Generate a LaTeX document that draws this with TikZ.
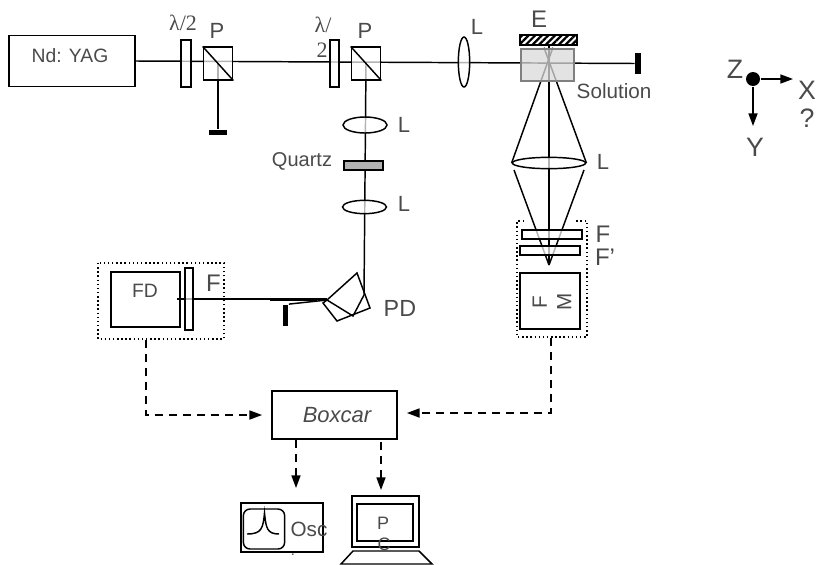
\documentclass[tikz,border=0pt]{standalone}
\usepackage{fontspec}
\setmainfont{Liberation Sans}
\newfontfamily\greekfont{Liberation Serif}
\usetikzlibrary{shapes.geometric,arrows.meta,positioning,backgrounds,patterns.meta}
\definecolor{labelgray}{HTML}{4A4A4A}
\definecolor{cellgray}{HTML}{DADADA}
\definecolor{cellline}{HTML}{808080}
\begin{document}
\begin{tikzpicture}[
    x=0.75pt, y=-0.75pt,
    line width=1.1pt,
    tag/.style={text=labelgray, font=\fontsize{16.5}{18}\selectfont, inner sep=0pt},
    bigtag/.style={tag, font=\fontsize{18}{20}\selectfont},
    smalltag/.style={tag, font=\fontsize{15.5}{17}\selectfont},
    axistag/.style={tag, font=\fontsize{20}{22}\selectfont},
    box/.style={draw, inner sep=0pt, line width=1.1pt},
    plate/.style={box, fill=white, fill opacity=0.7},
    cube/.style={plate, minimum width=22pt, minimum height=24.5pt},
    lens/.style={plate, ellipse},
    dump/.style={fill=black, inner sep=0pt},
    dotbox/.style={dotted, line width=1.1pt},
    beam/.style={line width=1.1pt},
    arrow/.style={-{Triangle[length=9.5pt,width=6.8pt]}, line width=1.1pt},
    dasharrow/.style={arrow, dash pattern=on 6pt off 4.5pt}
]
\useasboundingbox (0,0) rectangle (816,564);

% laser line
\node[box, minimum width=94.5pt, minimum height=38pt] (laser) at (72,61) {};
\node[tag, font=\fontsize{14.5}{16}\selectfont] (laserlab) at (70,56) {Nd: YAG};
\node[plate, minimum width=7.5pt, minimum height=35pt] (waveA) at (186,63.5) {};
\node[cube] (cubeA) at (218,63.5) {};
\node[plate, minimum width=7pt, minimum height=35pt] (waveB) at (334.5,63.5) {};
\node[cube] (cubeB) at (366,63.5) {};
\node[lens, minimum width=8.5pt, minimum height=37.5pt] (lensA) at (464,62) {};
\node[box, minimum width=42.5pt, minimum height=7.5pt, pattern={Lines[angle=45,distance=3.5pt,line width=1.7pt]}] (mirror) at (548.5,40) {};
\node[draw=cellline, fill=cellgray, fill opacity=0.75, line width=1.9pt, inner sep=0pt, minimum width=40pt, minimum height=24pt] (cell) at (547.5,65) {};
\node[dump, minimum width=4pt, minimum height=16pt] (stopA) at (638,63.5) {};
\node[dump, minimum width=13.5pt, minimum height=4pt] (stopB) at (218,132.5) {};

\node[tag] (labwaveA) at (183,23) {\greekfont λ/2};
\node[tag] (labcubeA) at (217,31) {P};
\node[tag] (labwaveB) at (323,25) {\greekfont λ/};
\node[tag] (labwaveC) at (322,50) {\greekfont 2};
\node[tag] (labcubeB) at (365,31) {P};
\node[tag] (lablensA) at (477,27) {L};
\node[bigtag] (labmirror) at (539,19) {E};
\node[smalltag, anchor=west] (labcell) at (576,91) {Solution};

% vertical branch
\node[lens, minimum width=33pt, minimum height=12pt] (lensB) at (365,125) {};
\node[box, fill=gray!60, minimum width=29pt, minimum height=7pt] (quartz) at (363.5,165.5) {};
\node[lens, minimum width=33pt, minimum height=10pt] (lensC) at (364.5,207) {};
\node[tag] (lablensB) at (404,125) {L};
\node[tag, font=\fontsize{15}{17}\selectfont] (labquartz) at (302,161) {Quartz};
\node[tag] (lablensC) at (404,204) {L};
\coordinate (prismtop) at (364,295);

% collection side
\node[lens, minimum width=55pt, minimum height=8.5pt] (lensD) at (549,163) {};
\node[tag] (lablensD) at (603,162) {L};
\node[plate, minimum width=45pt, minimum height=7pt] (filterA) at (552,234.5) {};
\node[plate, minimum width=45pt, minimum height=7pt] (filterB) at (550,250.5) {};
\node[box, minimum width=45pt, minimum height=42pt] (fm) at (550,301) {};
\node[tag, rotate=90, align=center, font=\fontsize{15.5}{18.5}\selectfont] (labfm) at (552,302) {F\\M};
\node[bigtag] (labfilterA) at (603,234) {F};
\node[bigtag] (labfilterB) at (605,257) {F'};
\coordinate (focus) at (549,265);
\coordinate (mirrorfoot) at (549,45);
\coordinate (fmfoot) at (551,338);

% detector side
\node[box, minimum width=52pt, minimum height=41pt] (fd) at (145.5,299.5) {};
\node[tag, font=\fontsize{14.5}{16}\selectfont] (labfd) at (145,291) {FD};
\node[plate, minimum width=6pt, minimum height=46.5pt] (filterC) at (189,299) {};
\node[bigtag] (labfilterC) at (213.5,283) {F};
\node[tag, font=\fontsize{17.5}{19}\selectfont, anchor=west] (labprism) at (383,308) {PD};
\node[dump, minimum width=4pt, minimum height=16pt] (stopC) at (285.5,315.5) {};
\node[dump, minimum width=35pt, minimum height=2pt] (bar) at (293.5,300) {};
\coordinate (fdfoot) at (146,340);
\coordinate (beamend) at (177,299);

% boxcar and readout
\node[box, minimum width=93.5pt, minimum height=36pt] (boxcar) at (334.5,415) {};
\node[tag, font=\fontsize{16.5}{18}\selectfont\itshape] (labboxcar) at (337,415) {Boxcar};
\node[box, minimum width=61.5pt, minimum height=36.5pt] (osc) at (282,527.5) {};
\node[box, rounded corners=5pt, minimum width=31pt, minimum height=30pt] (screen) at (264,529) {};
\node[smalltag] (labosc) at (309,529) {Osc};
\node[tag, font=\fontsize{11}{13}\selectfont] (labdot) at (293,555) {.};
\node[box, minimum width=50.5pt, minimum height=38pt] (pc) at (385.5,521.5) {};
\node[box, minimum width=42pt, minimum height=27.5pt] (pcscreen) at (385,522.5) {};
\node[tag, font=\fontsize{13.5}{15}\selectfont] (labpcA) at (383,523) {P};
\node[tag, font=\fontsize{13.5}{15}\selectfont] (labpcB) at (384,544) {C};
\coordinate (oscarrow) at (296,488);
\coordinate (pcarrow) at (381,490);

% axes
\node[circle, fill=black, inner sep=0pt, minimum size=10.5pt] (origin) at (753,79) {};
\coordinate (axisX) at (793,79);
\coordinate (axisY) at (753,126);
\node[axistag] (labZ) at (735,69) {Z};
\node[axistag, anchor=west] (labX) at (797.5,90) {X};
\node[axistag] (labQ) at (807,118) {?};
\node[axistag] (labY) at (755,147) {Y};

\begin{scope}[on background layer]
\draw[beam] (laser.east) -- (stopA.west);
\draw[beam] (cubeA.center) -- (stopB.north);
\draw[beam] (cubeB.center) -- (prismtop);
\draw[beam] (mirrorfoot) -- (focus);
\draw[beam] ([xshift=-2.6pt]cell.north) -- (lensD.east);
\draw[beam] ([xshift=4pt]cell.north) -- (lensD.west);
\draw[beam] (514,170) -- (focus);
\draw[beam] (584,170) -- (focus);
\draw[beam] (beamend) -- (327,299);
\end{scope}

\draw (cubeA.north west) -- (cubeA.south east);
\draw (cubeB.north west) -- (cubeB.south east);

% prism
\draw (327,300) -- (357,273) -- (370,308) -- (337,321) -- (323,303) -- cycle;
\draw (327,300) -- (353,316) -- (prismtop);
\draw (stopC.north east) -- (327,300);

% dotted groups
\draw[dotbox] (98,263) rectangle (224,339);
\draw[dotbox] (524,221) -- (517,221) -- (517,337) -- (587,337) -- (587,221) -- (575,221);

% signal lines
\draw[dasharrow] (fdfoot) |- ([xshift=-7pt]boxcar.west);
\draw[dasharrow] (fmfoot) |- ([xshift=7pt,yshift=1.5pt]boxcar.east);
\draw[dasharrow] (boxcar.south -| oscarrow) -- (oscarrow);
\draw[dasharrow] ([yshift=-2pt]boxcar.south -| pcarrow) -- (pcarrow);

% scope trace
\draw (247,534) .. controls (262,534) and (263,528) .. (264.5,513) .. controls (266,528) and (267,534) .. (279,534);

% keyboard
\draw (353,551) -- (419,551) -- (432,564) -- (341,564) -- cycle;

% axes arrows
\draw[arrow] (origin.east) -- (axisX);
\draw[arrow] (origin.south) -- (axisY);
\end{tikzpicture}
\end{document}
